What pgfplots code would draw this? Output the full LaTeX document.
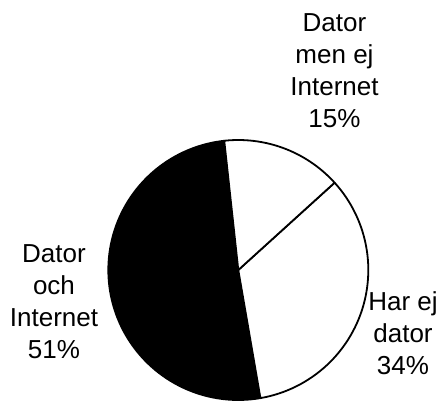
\documentclass[border=0pt]{standalone}
\usepackage{pgfplots}
\usepackage{pgfplotstable}
\pgfplotsset{compat=1.18}
\usepackage{fontspec}
\setmainfont{Liberation Sans}

\pgfplotstableread{
share
15
34
51
}\piedata

\def\cx{238.3}
\def\cy{270}
\def\rr{130}
\tikzset{lbl/.style={font=\fontsize{26pt}{32pt}\selectfont, align=center, inner sep=0pt, anchor=north}}

\begin{document}
\begin{tikzpicture}
\pgfplotstablegetelem{0}{share}\of\piedata \let\va\pgfplotsretval
\pgfplotstablegetelem{1}{share}\of\piedata \let\vb\pgfplotsretval
\pgfplotstablegetelem{2}{share}\of\piedata \let\vc\pgfplotsretval
\pgfmathsetmacro{\azero}{96.2}
\pgfmathsetmacro{\aone}{\azero-3.6*\va}
\pgfmathsetmacro{\atwo}{\aone-3.6*\vb}
\pgfmathsetmacro{\athree}{\atwo-3.6*\vc}
\begin{axis}[
  width=441pt, height=401pt, scale only axis,
  xmin=0, xmax=441, ymin=0, ymax=401, y dir=reverse,
  axis line style={draw=none}, xtick=\empty, ytick=\empty,
]
% Dator och Internet (black)
\addplot[fill=black, draw=black, line width=1.8pt, line join=round, domain=\athree:\atwo, samples=90, variable=\t]
  ({\cx+\rr*cos(\t)}, {\cy-\rr*sin(\t)}) -- (axis cs:\cx,\cy) -- cycle;
% Har ej dator
\addplot[fill=white, draw=black, line width=1.8pt, line join=round, domain=\atwo:\aone, samples=60, variable=\t]
  ({\cx+\rr*cos(\t)}, {\cy-\rr*sin(\t)}) -- (axis cs:\cx,\cy) -- cycle;
% Dator men ej Internet
\addplot[fill=white, draw=black, line width=1.8pt, line join=round, domain=\aone:\azero, samples=30, variable=\t]
  ({\cx+\rr*cos(\t)}, {\cy-\rr*sin(\t)}) -- (axis cs:\cx,\cy) -- cycle;

\node[lbl] at (axis cs:334.5,13.7) {Dator\\men ej\\Internet\\15\%};
\node[lbl] at (axis cs:54,244.4) {Dator\\och\\Internet\\51\%};
\node[lbl] at (axis cs:403,291.4) {Har ej\\dator\\34\%};
\end{axis}
\end{tikzpicture}
\end{document}
